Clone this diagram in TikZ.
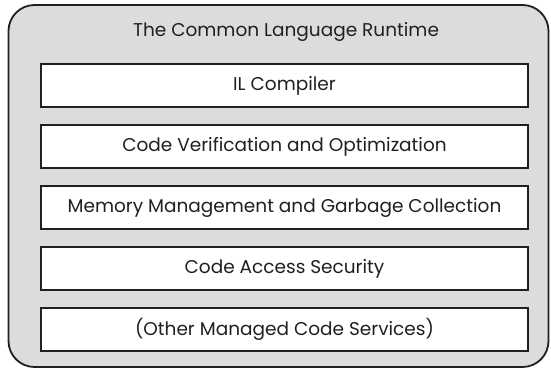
\documentclass[tikz,border=0pt]{standalone}
\usepackage{fontspec}
\setmainfont{Poppins}
\definecolor{panel}{HTML}{DCDCDD}
\definecolor{edge}{HTML}{231F20}
\begin{document}
\begin{tikzpicture}[x=1pt,y=-1pt,
  layer/.style={draw=edge,line width=2pt,fill=white,minimum width=487pt,minimum height=43pt,inner sep=0pt,anchor=north west,font=\fontsize{18.5}{22}\selectfont,text=edge},
  outer/.style={draw=edge,line width=1.8pt,fill=panel,rounded corners=26pt}]
\useasboundingbox (0,0) rectangle (551,370);
\draw[outer] (8.5,5) rectangle (548.5,367);
\node[font=\fontsize{18.5}{22}\selectfont,text=edge] (title) at (286,32) {The Common Language Runtime};
\node[layer] (il) at (40,63) {IL Compiler};
\node[layer] (cv) at (40,124) {Code Verification and Optimization};
\node[layer] (mm) at (40,185) {Memory Management and Garbage Collection};
\node[layer] (cas) at (40,246) {Code Access Security};
\node[layer] (oth) at (40,307) {(Other Managed Code Services)};
\end{tikzpicture}
\end{document}
